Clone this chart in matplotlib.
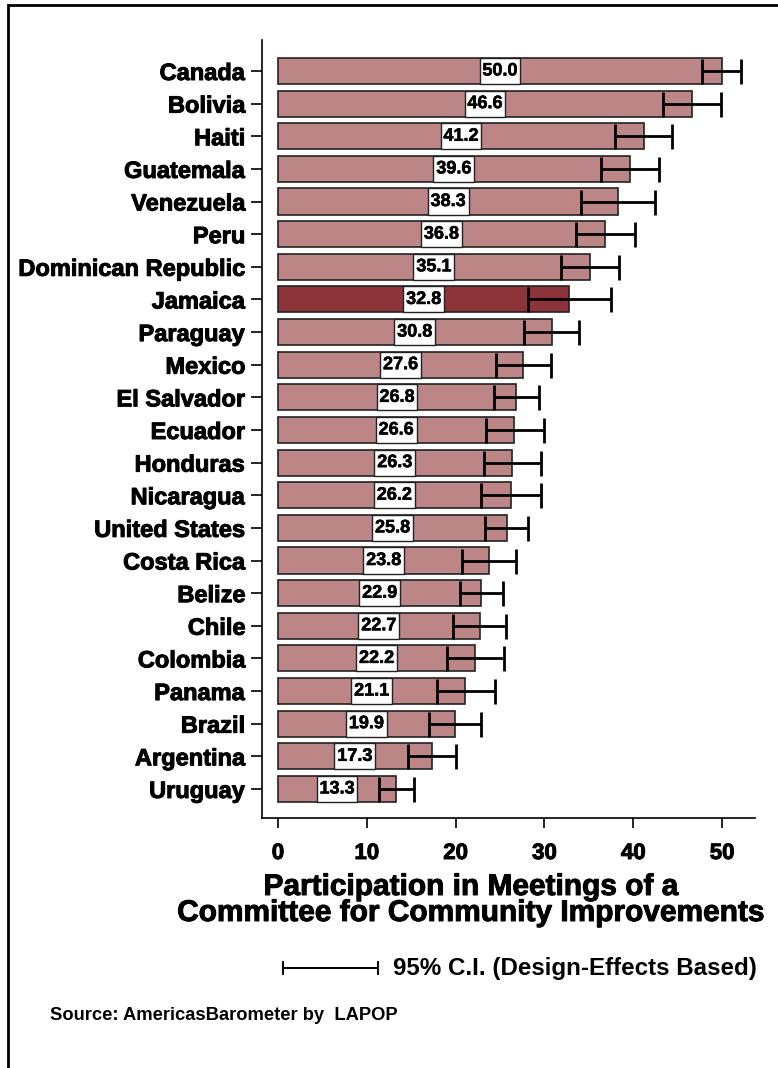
"""Participation in community improvement committee meetings, by country."""

import matplotlib

matplotlib.use("Agg")
import matplotlib.patheffects as pe
import matplotlib.pyplot as plt
from matplotlib.patches import Rectangle

countries = [
    "Canada", "Bolivia", "Haiti", "Guatemala", "Venezuela", "Peru",
    "Dominican Republic", "Jamaica", "Paraguay", "Mexico", "El Salvador",
    "Ecuador", "Honduras", "Nicaragua", "United States", "Costa Rica",
    "Belize", "Chile", "Colombia", "Panama", "Brazil", "Argentina", "Uruguay",
]
values = [
    50.0, 46.6, 41.2, 39.6, 38.3, 36.8, 35.1, 32.8, 30.8, 27.6, 26.8, 26.6,
    26.3, 26.2, 25.8, 23.8, 22.9, 22.7, 22.2, 21.1, 19.9, 17.3, 13.3,
]
ci_low = [
    47.7, 43.3, 37.9, 36.4, 34.1, 33.5, 31.9, 28.1, 27.7, 24.5, 24.3, 23.4,
    23.2, 22.9, 23.3, 20.7, 20.5, 19.7, 19.0, 17.9, 17.0, 14.6, 11.4,
]
ci_high = [
    52.1, 49.9, 44.3, 42.9, 42.4, 40.2, 38.4, 37.5, 33.9, 30.7, 29.4, 29.9,
    29.6, 29.6, 28.2, 26.8, 25.3, 25.7, 25.4, 24.4, 22.9, 20.0, 15.3,
]
highlight = "Jamaica"
xticks = [0, 10, 20, 30, 40, 50]

BAR_COLOR = "#BC8586"
HIGHLIGHT_COLOR = "#8C343A"
FONT = "Liberation Sans"
W, H = 778, 1068
# a thin outline makes the bold face look as heavy as the original
HEAVY = [pe.withStroke(linewidth=0.7, foreground="black")]
LIGHTER = [pe.withStroke(linewidth=0.4, foreground="black")]

fig = plt.figure(figsize=(W / 100, H / 100), dpi=100)
ax = fig.add_axes([262 / W, 1 - 818 / H, 493 / W, 778 / H])

n = len(countries)
ypos = [n - 1 - i for i in range(n)]
colors = [HIGHLIGHT_COLOR if c == highlight else BAR_COLOR for c in countries]

ax.barh(ypos, values, height=0.8, color=colors, edgecolor="#222222", linewidth=1.2, zorder=2)

# white value boxes centred on the middle of each bar
box_w = 4.6
ax.barh(ypos, [box_w] * n, left=[v / 2 - box_w / 2 for v in values], height=0.8,
        color="white", edgecolor="#222222", linewidth=1.0, zorder=3)
for y, v in zip(ypos, values):
    ax.text(v / 2, y, f"{v:.1f}", ha="center", va="center", fontsize=13,
            fontweight="bold", family=FONT, zorder=4, path_effects=LIGHTER)

err = [[v - lo for v, lo in zip(values, ci_low)], [hi - v for v, hi in zip(values, ci_high)]]
ax.errorbar(values, ypos, xerr=err, fmt="none", ecolor="black", elinewidth=2.0,
            capsize=9, capthick=2.0, zorder=5)

ax.set_xlim(-1.8, 53.7)
ax.set_ylim(-0.89, n - 1 + 0.95)
ax.set_yticks(ypos)
ax.set_yticklabels(countries, fontsize=17, fontweight="bold", family=FONT)
ax.set_xticks(xticks)
ax.set_xticklabels([str(t) for t in xticks], fontsize=16, fontweight="bold", family=FONT)
for lbl in ax.get_yticklabels() + ax.get_xticklabels():
    lbl.set_path_effects(HEAVY)
ax.tick_params(axis="y", length=8, width=1.2, pad=4)
ax.tick_params(axis="x", length=7, width=1.2, pad=11)
for side in ("top", "right"):
    ax.spines[side].set_visible(False)
for side in ("left", "bottom"):
    ax.spines[side].set_linewidth(1.2)

# axis title in two lines
fig.text(471 / W, 1 - 887 / H, "Participation in Meetings of a", ha="center", va="center",
         fontsize=21.5, fontweight="bold", family=FONT, path_effects=HEAVY)
fig.text(471 / W, 1 - 913 / H, "Committee for Community Improvements", ha="center", va="center",
         fontsize=21.5, fontweight="bold", family=FONT, path_effects=HEAVY)

# confidence interval key
ky = 1 - 968 / H
fig.add_artist(plt.Line2D([283 / W, 378 / W], [ky, ky], color="black", lw=1.4))
for kx in (283 / W, 378 / W):
    fig.add_artist(plt.Line2D([kx, kx], [ky - 6 / H, ky + 6 / H], color="black", lw=1.4))
fig.text(393 / W, ky, "95% C.I. (Design-Effects Based)", ha="left", va="center",
         fontsize=17.4, fontweight="bold", family=FONT)

fig.text(50 / W, 1 - 1016 / H, "Source: AmericasBarometer by  LAPOP", ha="left", va="center",
         fontsize=13.2, fontweight="bold", family=FONT)

# frame around the figure (only top and left are inside the image)
fig.add_artist(Rectangle((8 / W, -0.5), 2, 1.5 - 5 / H, transform=fig.transFigure,
                         fill=False, edgecolor="black", linewidth=2))

fig.savefig("out.png", dpi=100)
